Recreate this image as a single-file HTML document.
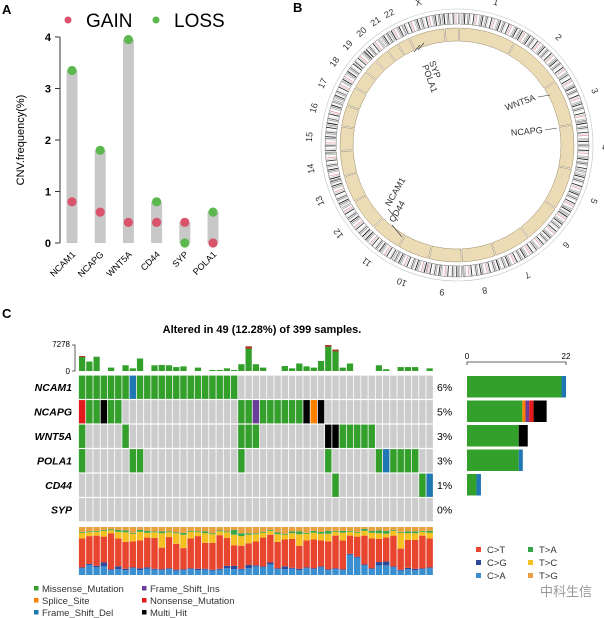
<!DOCTYPE html>
<html><head><meta charset="utf-8"><style>
html,body{margin:0;padding:0;background:#fff;width:604px;height:618px;overflow:hidden}
svg{display:block;font-family:"Liberation Sans",Arial,sans-serif}
</style></head><body>
<svg id="s" width="604" height="618" viewBox="0 0 604 618" xmlns="http://www.w3.org/2000/svg"></svg>
<script>
// ---------- Panel A data ----------
const cnvGenes=["NCAM1","NCAPG","WNT5A","CD44","SYP","POLA1"];
const gainVals=[0.8,0.6,0.4,0.4,0.4,0.0];
const lossVals=[3.35,1.8,3.95,0.8,0.0,0.6];
const yTicks=[0,1,2,3,4];
// ---------- Panel C data ----------
const oncoGenes=["NCAM1","NCAPG","WNT5A","POLA1","CD44","SYP"];
const oncoPct=["6%","5%","3%","3%","1%","0%"];
// cells: [row, col, type]  M=missense, D=frame_shift_del, I=frame_shift_ins, S=splice, N=nonsense, H=multi_hit
const oncoCells=[];
(function(){
 for(let c=0;c<22;c++) oncoCells.push([0,c,c===7?'D':'M']);
 [[0,'N'],[1,'M'],[2,'M'],[3,'H'],[4,'M'],[5,'M'],[22,'M'],[23,'M'],[24,'I'],[25,'M'],[26,'M'],[27,'M'],[28,'M'],[29,'M'],[30,'M'],[31,'H'],[32,'S'],[33,'H']].forEach(a=>oncoCells.push([1,a[0],a[1]]));
 [[0,'M'],[6,'M'],[22,'M'],[23,'M'],[24,'M'],[34,'H'],[35,'H'],[36,'M'],[37,'M'],[38,'M'],[39,'M'],[40,'M']].forEach(a=>oncoCells.push([2,a[0],a[1]]));
 [[0,'M'],[7,'M'],[8,'M'],[22,'M'],[34,'M'],[41,'M'],[42,'D'],[43,'M'],[44,'M'],[45,'M'],[46,'M']].forEach(a=>oncoCells.push([3,a[0],a[1]]));
 [[35,'M'],[47,'M'],[48,'D']].forEach(a=>oncoCells.push([4,a[0],a[1]]));
})();
const tmbVals=[4200,2650,4000,0,950,0,1600,750,3500,0,1600,1700,1600,1100,1300,0,950,0,300,300,750,300,1900,6900,1900,950,0,0,1400,750,2100,1300,950,2800,7278,6000,950,2100,0,0,0,1600,500,0,1100,1100,1100,0,750];
const tmbRed=[300,0,0,0,0,0,0,0,0,0,0,0,0,0,0,0,0,0,0,0,0,0,0,700,0,0,0,0,0,0,0,0,0,0,500,500,0,0,0,0,0,0,0,0,0,0,0,0,0];
const rightTotals=[22,17,13,12,3,0];
const rightSegs=[[['M',21],['D',1]],[['M',12.3],['S',0.7],['I',0.8],['N',1],['H',2.9]],[['M',11.5],['H',2]],[['M',11.5],['D',0.9]],[['M',2.1],['D',1]],[]];
// titv fractions per sample (bottom->top: C>A, C>G, C>T, T>C, T>A, T>G)
const fCA=[.14,.21,.16,.18,.1,.12,.1,.14,.1,.13,.11,.1,.12,.09,.1,.12,.1,.11,.09,.11,.14,.12,.11,.14,.18,.16,.22,.12,.12,.13,.1,.14,.12,.16,.1,.12,.1,.42,.36,.2,.12,.2,.2,.16,.09,.12,.1,.12,.14];
const fCG=[.02,.02,.03,.08,.02,.06,.03,.02,.04,.03,.02,.02,.02,.02,.02,.02,.03,.02,.02,.02,.05,.07,.02,.07,.02,.02,.04,.02,.06,.02,.03,.02,.02,.02,.02,.02,.02,.02,.02,.02,.02,.07,.08,.02,.02,.03,.03,.02,.02];
const fCT=[.6,.58,.63,.54,.75,.58,.56,.54,.58,.62,.64,.45,.65,.54,.44,.62,.68,.54,.56,.7,.58,.43,.48,.45,.5,.6,.58,.55,.56,.6,.48,.56,.6,.54,.58,.68,.6,.38,.42,.6,.62,.48,.5,.64,.44,.58,.6,.68,.6];
const fTC=[.12,.08,.08,.12,.06,.14,.2,.16,.18,.1,.12,.3,.1,.22,.28,.14,.08,.2,.18,.08,.12,.22,.2,.18,.15,.1,.08,.16,.1,.12,.24,.14,.14,.14,.16,.08,.16,.08,.08,.1,.12,.12,.08,.1,.33,.14,.14,.08,.12];
const fTA=[.02,.02,.02,.02,.02,.04,.04,.02,.04,.04,.02,.04,.02,.02,.04,.02,.02,.04,.02,.02,.02,.1,.06,.03,.02,.02,.02,.04,.02,.04,.06,.02,.04,.04,.06,.02,.04,.02,.02,.04,.04,.06,.06,.02,.02,.04,.04,.02,.04];
const fTG=[.1,.09,.08,.06,.05,.06,.07,.12,.06,.08,.09,.09,.09,.11,.12,.08,.09,.09,.13,.07,.09,.06,.13,.13,.13,.1,.06,.11,.14,.09,.09,.12,.08,.1,.08,.08,.08,.08,.1,.04,.08,.07,.08,.06,.1,.09,.09,.08,.08];
// ---------- Panel B data ----------
const chrNames=["1","2","3","4","5","6","7","8","9","10","11","12","13","14","15","16","17","18","19","20","21","22","X","Y"];
const chrLens=[249,243,198,191,181,171,159,146,141,136,135,134,115,107,103,90,81,78,59,63,48,51,155,59];

const S=document.getElementById('s');const NS='http://www.w3.org/2000/svg';
function el(t,a,p,txt){const e=document.createElementNS(NS,t);for(const k in a)e.setAttribute(k,a[k]);if(txt!==undefined)e.textContent=txt;(p||S).appendChild(e);return e;}
const COL={M:'#33a02c',D:'#1f78b4',I:'#6a3d9a',S:'#ff7f00',N:'#e31a1c',H:'#000000'};

// panel letters
let t;
t=el('text',{x:2,y:14,'font-size':13,'font-weight':'bold'},S,'A');
t=el('text',{x:293,y:12,'font-size':13,'font-weight':'bold'},S,'B');
t=el('text',{x:2,y:318,'font-size':13,'font-weight':'bold'},S,'C');

// ===== Panel A =====
const gA=el('g',{});
const ay=v=>243-v*51.5; const ax=i=>72+i*28.2;
el('line',{x1:60,y1:ay(0),x2:60,y2:ay(4),stroke:'#333','stroke-width':1},gA);
yTicks.forEach(v=>{el('line',{x1:55,y1:ay(v),x2:60,y2:ay(v),stroke:'#333'},gA);
 const tt=el('text',{x:51,y:ay(v)+4,'font-size':11,'font-weight':'bold','text-anchor':'end'},gA,String(v));});
t=el('text',{x:0,y:0,'font-size':11,'text-anchor':'middle',transform:'translate(24,140) rotate(-90)'},gA,'CNV.frequency(%)');
cnvGenes.forEach((g,i)=>{
 const hi=Math.max(gainVals[i],lossVals[i]);
 const b=el('rect',{x:ax(i)-5.5,y:ay(hi),width:11,height:ay(0)-ay(hi),fill:'#c8c8c8'},gA);
 const c1=el('circle',{cx:ax(i),cy:ay(gainVals[i]),r:4.6,fill:'#d9536d'},gA);
 const c2=el('circle',{cx:ax(i),cy:ay(lossVals[i]),r:4.6,fill:'#5cb84e'},gA);
 const l=el('text',{x:0,y:0,'font-size':9,'text-anchor':'end',transform:`translate(${ax(i)+4},${255}) rotate(-45)`},gA,g);
});
const lg=el('g',{},gA);
el('circle',{cx:68,cy:20,r:3.5,fill:'#d9536d'},lg);el('text',{x:86,y:27,'font-size':19},lg,'GAIN');
el('circle',{cx:156,cy:20,r:3.5,fill:'#5cb84e'},lg);el('text',{x:174,y:27,'font-size':19},lg,'LOSS');

// ===== Panel B circos =====
const gB=el('g',{});
const cx=457,cy=145;const total=chrLens.reduce((a,b)=>a+b,0);const gap=0.6;const degPer=(360-gap*24)/total;
function pt(r,deg){const a=(deg-90)*Math.PI/180;return [cx+r*Math.cos(a),cy+r*Math.sin(a)];}
function arc(r1,r2,d1,d2,fill,stroke,parent){const p1=pt(r2,d1),p2=pt(r2,d2),p3=pt(r1,d2),p4=pt(r1,d1);const lf=(d2-d1)>180?1:0;
 return el('path',{d:`M${p1[0]},${p1[1]}A${r2},${r2} 0 ${lf} 1 ${p2[0]},${p2[1]}L${p3[0]},${p3[1]}A${r1},${r1} 0 ${lf} 0 ${p4[0]},${p4[1]}Z`,fill:fill,stroke:stroke||'none','stroke-width':0.5},parent);}
let d=gap/2+1;const bandCols=['#ffffff','#d9d9d9','#888','#222','#f0f0f0','#e8a0a8','#555','#bbb','#fff','#111','#ccc','#999'];
chrNames.forEach((n,i)=>{const d1=d,d2=d+chrLens[i]*degPer;
 const gc=el('g',{},gB);
 arc(121,132,d1,d2,'#fff','#666',gc);
 const nb=Math.max(4,Math.round(chrLens[i]/6));const w=(d2-d1)/nb;
 for(let k=0;k<nb;k++){const col=bandCols[(k*7+i*3)%bandCols.length];if(col!=='#fff'&&col!=='#ffffff')arc(121.3,131.7,d1+k*w,d1+(k+0.55)*w,col,null,gc);}
 arc(104,117,d1,d2,'#ecdcb6','#9a8a6a',gc);
 const m=(d1+d2)/2;const p=pt(148,m);
 const lt=el('text',{x:p[0],y:p[1]+3,'font-size':9,'text-anchor':'middle',fill:'#333',transform:`rotate(${m},${p[0]},${p[1]})`},gc,n==='X'?'X':(n==='Y'?'Y':n));
 d=d2+gap;});
el('circle',{cx:cx,cy:cy,r:136,fill:'none',stroke:'#b8c8c0','stroke-width':0.6},gB);
const gl=[['SYP',429,62,418,50,0],['POLA1',422,66,414,52,0],['WNT5A',511,105,538,97,1],['NCAPG',521,128,545,130,1],['NCAM1',405,232,388,209,0],['CD44',402,245,392,225,0]];
gl.forEach(g=>{const gg=el('g',{},gB);
 el('line',{x1:g[3],y1:g[4],x2:g[0]==='SYP'||g[0]==='POLA1'?g[3]+6:(g[5]?g[3]+12:g[3]+10),y2:g[0]==='SYP'||g[0]==='POLA1'?g[4]-7:g[4]+(g[5]?-2:12),stroke:'#333','stroke-width':0.6},gg);
 let tr,anchor='start';
 if(g[0]==='SYP'||g[0]==='POLA1'){tr=`translate(${g[1]},${g[2]}) rotate(70)`;}
 else if(g[5]){tr=`translate(${g[3]-2},${g[4]+3}) rotate(${g[0]==='WNT5A'?-20:-5})`;anchor='end';}
 else {tr=`translate(${g[3]+2},${g[4]-2}) rotate(-60)`;}
 el('text',{x:0,y:0,'font-size':9,'text-anchor':anchor,transform:tr,fill:'#333'},gg,g[0]);});

// ===== Panel C =====
const gC=el('g',{});
t=el('text',{x:262,y:333,'font-size':11,'font-weight':'bold','text-anchor':'middle'},gC,'Altered in 49 (12.28%) of 399 samples.');
const X0=78.5,CW=7.24,Y0=375,RH=24.5,N=49;
const colX=c=>X0+c*CW;
// grid
for(let r=0;r<6;r++)for(let c=0;c<N;c++){el('rect',{x:colX(c)+0.4,y:Y0+r*RH+0.6,width:CW-0.8,height:RH-1.2,fill:'#cccccc'},gC);}
oncoCells.forEach(a=>{const rc=el('rect',{x:colX(a[1])+0.4,y:Y0+a[0]*RH+0.6,width:CW-0.8,height:RH-1.2,fill:COL[a[2]]},gC);});
oncoGenes.forEach((g,r)=>{
 const tl=el('text',{x:72,y:Y0+r*RH+16,'font-size':10.5,'font-style':'italic','font-weight':'bold','text-anchor':'end'},gC,g);
 const pl=el('text',{x:437,y:Y0+r*RH+16,'font-size':10.5},gC,oncoPct[r]);});
// top tmb bars
const tmbMax=7278,TB=371,TH=26;const ty=v=>TB-v/tmbMax*TH;
el('path',{d:`M72,${ty(tmbMax)}H75V${TB}H72`,fill:'none',stroke:'#333','stroke-width':0.8},gC);
el('text',{x:70,y:ty(tmbMax)+2,'font-size':8,'text-anchor':'end'},gC,'7278');
el('text',{x:70,y:TB+3,'font-size':8,'text-anchor':'end'},gC,'0');
tmbVals.forEach((v,c)=>{if(!v)return;const b=el('rect',{x:colX(c)+0.5,y:ty(v),width:CW-1,height:TB-ty(v),fill:'#33a02c'},gC);
 if(tmbRed[c])el('rect',{x:colX(c)+0.5,y:ty(v),width:CW-1,height:TB-ty(v)-(TB-ty(v-tmbRed[c])),fill:'#b03a2e'},gC);});
// right bars
const RX=467,RW=99/22;const rxs=v=>RX+v*RW;
el('path',{d:`M${RX},365V362H${rxs(22)}V365`,fill:'none',stroke:'#333','stroke-width':0.8},gC);
el('text',{x:RX,y:359,'font-size':8,'text-anchor':'middle'},gC,'0');el('text',{x:rxs(22),y:359,'font-size':8,'text-anchor':'middle'},gC,'22');
rightSegs.forEach((segs,r)=>{let acc=0;segs.forEach(s=>{const b=el('rect',{x:rxs(acc),y:Y0+r*RH+1,width:s[1]*RW,height:RH-3,fill:COL[s[0]]},gC);acc+=s[1];});});
// titv bars
const BY=527,BH=48;const TIC=['#3a8fd1','#2c4a9c','#e8452f','#f5c021','#3aa64a','#e8a040'];
const fracs=[fCA,fCG,fCT,fTC,fTA,fTG];
for(let c=0;c<N;c++){let sum=0;fracs.forEach(f=>sum+=f[c]);let y=BY+BH;
 fracs.forEach((f,k)=>{const h=f[c]/sum*BH;y-=h;const b=el('rect',{x:colX(c)+0.4,y:y,width:CW-0.8,height:h,fill:TIC[k]},gC);});}
// titv legend
const tl=[['C>T',2,476,553],['C>G',1,476,566],['C>A',0,476,579],['T>A',4,528,553],['T>C',3,528,566],['T>G',5,528,579]];
const gtl=el('g',{},gC);
tl.forEach(a=>{el('rect',{x:a[2],y:a[3]-6,width:5,height:5,fill:TIC[a[1]]},gtl);el('text',{x:a[2]+11,y:a[3],'font-size':9.5,fill:'#333'},gtl,a[0]);});
// variant legend
const vl=[['Missense_Mutation','M',34,592],['Splice_Site','S',34,604],['Frame_Shift_Del','D',34,616],['Frame_Shift_Ins','I',142,592],['Nonsense_Mutation','N',142,604],['Multi_Hit','H',142,616]];
const gvl=el('g',{},gC);
vl.forEach(a=>{el('rect',{x:a[2],y:a[3]-6,width:4.5,height:4.5,fill:COL[a[1]]},gvl);el('text',{x:a[2]+8,y:a[3],'font-size':9.5,fill:'#333'},gvl,a[0]);});
t=el('text',{x:540,y:596,'font-size':13,fill:'#999','font-family':'"Liberation Sans","Noto Sans CJK SC",sans-serif'},S,'中科生信');
</script>
</body></html>
